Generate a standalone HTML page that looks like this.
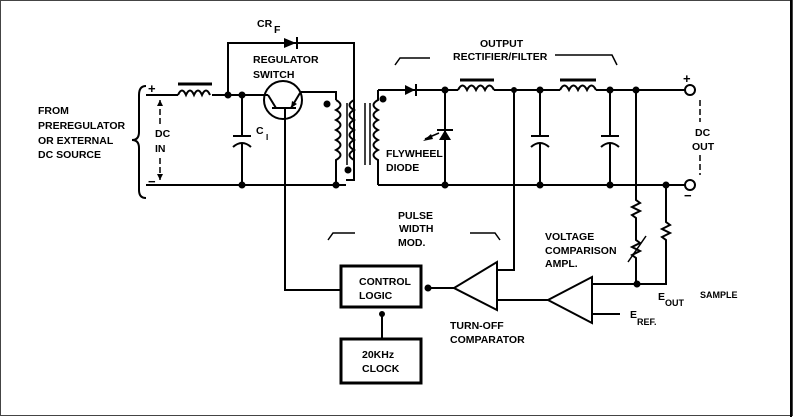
<!DOCTYPE html>
<html><head><style>
html,body{margin:0;padding:0;background:#fff}
svg{display:block}
text{font-family:"Liberation Sans",sans-serif;font-weight:bold;font-size:10.5px;fill:#000}
</style></head><body>
<svg width="794" height="417" viewBox="0 0 794 417" xmlns="http://www.w3.org/2000/svg">
<rect x="0.5" y="0.5" width="792" height="415" fill="#fff" stroke="#444" stroke-width="1"/>
<line x1="791" y1="0" x2="791" y2="417" stroke="#000" stroke-width="2"/>
<g stroke="#000" stroke-width="2" fill="none">
<path d="M146 86 Q139 86 139 95 L139 132 Q139 140 132 140 Q139 140 139 148 L139 190 Q139 198 146 198"/>
<path d="M146 95 H178 M212 95 H268"/>
<path d="M146 185 H346"/>
<path d="M178 95 q4 -9 8 0 q4 -9 8 0 q4 -9 8 0 q4 -9 8 0"/>
<line x1="178" y1="84" x2="212" y2="84" stroke-width="3"/>
<line x1="160" y1="100" x2="160" y2="126" stroke-width="1.5" stroke-dasharray="6,3"/>
<line x1="160" y1="158" x2="160" y2="180" stroke-width="1.5" stroke-dasharray="6,3"/>
<path d="M228 95 V43 H354 V180 H346"/>
<path d="M242 95 V136 M242 144 V185"/>
<path d="M233 136 H251" /><path d="M233 147 Q242 139 251 147"/>
<circle cx="283" cy="100" r="19"/>
<path d="M272 108 H296 M268 95 L276 108 M300 93 L291 108 M285 108 V290 H340"/>
<path d="M301 92 H336 V100"/>
<path d="M336 100 q9 5 0 10 q9 5 0 10 q9 5 0 10 q9 5 0 10 q9 5 0 10 q9 5 0 10 V185"/>
<path d="M354 100 q-9 5 0 10 q-9 5 0 10 q-9 5 0 10 q-9 5 0 10 q-9 5 0 10 q-9 5 0 10"/>
<line x1="347" y1="103" x2="347" y2="165" stroke-width="1.5"/>
<line x1="365" y1="103" x2="365" y2="165" stroke-width="1.5"/>
<line x1="370" y1="103" x2="370" y2="165" stroke-width="1.5"/>
<path d="M378 90 V100 q-9 5 0 10 q-9 5 0 10 q-9 5 0 10 q-9 5 0 10 q-9 5 0 10 q-9 5 0 10 V185"/>
<path d="M378 90 H458 M494 90 H560 M596 90 H688"/>
<path d="M458 90 q4.5 -9 9 0 q4.5 -9 9 0 q4.5 -9 9 0 q4.5 -9 9 0"/>
<path d="M560 90 q4.5 -9 9 0 q4.5 -9 9 0 q4.5 -9 9 0 q4.5 -9 9 0"/>
<line x1="460" y1="80" x2="494" y2="80" stroke-width="3"/>
<line x1="560" y1="80" x2="596" y2="80" stroke-width="3"/>
<path d="M378 185 H688"/>
<path d="M445 90 V185"/>
<path d="M540 90 V136 M540 144 V185 M531 136 H549 M531 147 Q540 139 549 147"/>
<path d="M610 90 V136 M610 144 V185 M601 136 H619 M601 147 Q610 139 619 147"/>
<path d="M437 130 H453"/>
<path d="M425 139 L439 133" stroke-width="1.5"/>
<path d="M514 90 V270 H497"/>
<path d="M636 90 V200 l4 3 -8 4 8 4 -8 4 4 3 V240 l4 3 -8 4 8 4 -8 4 4 3 V284 H592"/>
<path d="M628 262 L646 236" stroke-width="1.5"/>
<path d="M666 185 V222 l4 3 -8 4 8 4 -8 4 4 3 V284 H636"/>
<path d="M592 314 H620"/>
<path d="M592 277 V323 L548 300 Z"/>
<path d="M497 262 V310 L454 288 Z"/>
<path d="M548 300 H497"/>
<path d="M454 288 H428"/>
<rect x="341" y="266" width="80" height="41" stroke-width="3"/>
<rect x="341" y="339" width="80" height="44" stroke-width="3"/>
<path d="M382 339 V312"/>
<path d="M328 240 L333 233 H355 M470 233 H495 L500 240" stroke-width="1.5"/>
<path d="M395 65 L400 58 H430 M555 55 H612 L617 65" stroke-width="1.5"/>
<path d="M700 100 V122 M700 155 V175" stroke-width="1.5" stroke-dasharray="6,3"/>
</g>
<g fill="#000">
<circle cx="228" cy="95" r="3.5"/><circle cx="242" cy="95" r="3.5"/><circle cx="242" cy="185" r="3.5"/>
<circle cx="336" cy="185" r="3.5"/><circle cx="327" cy="104" r="3.5"/><circle cx="348" cy="170" r="3.5"/>
<circle cx="383" cy="99" r="3.5"/>
<circle cx="445" cy="90" r="3.5"/><circle cx="445" cy="185" r="3.5"/><circle cx="514" cy="90" r="3"/>
<circle cx="540" cy="90" r="3.5"/><circle cx="540" cy="185" r="3.5"/><circle cx="610" cy="90" r="3.5"/>
<circle cx="610" cy="185" r="3.5"/><circle cx="636" cy="90" r="3.5"/><circle cx="666" cy="185" r="3.5"/>
<circle cx="637" cy="284" r="3.5"/><circle cx="428" cy="288" r="3.5"/><circle cx="382" cy="314" r="3"/>
<path d="M284 38 L296 43 L284 48 Z"/><rect x="296" y="37" width="2" height="12"/>
<path d="M405 85 L415 90 L405 95 Z"/><rect x="415" y="84" width="2" height="12"/>
<path d="M439 140 L445 130 L451 140 Z"/>
<path d="M423 141 L431 134 L433 139 Z"/>
<path d="M291 108 L292 101 L297 104 Z"/>
<path d="M160 100 l-3 6 h6z"/><path d="M160 180 l-3 -6 h6z"/>
</g>
<circle cx="690" cy="90" r="5" fill="#fff" stroke="#000" stroke-width="2"/>
<circle cx="690" cy="185" r="5" fill="#fff" stroke="#000" stroke-width="2"/>
<text x="38" y="114">FROM</text>
<text x="38" y="129">PREREGULATOR</text>
<text x="38" y="144">OR EXTERNAL</text>
<text x="38" y="158">DC SOURCE</text>
<text x="148" y="93" style="font-size:13px">+</text>
<text x="148" y="186" style="font-size:13px">−</text>
<text x="155" y="137">DC</text><text x="155" y="152">IN</text>
<text x="256" y="134">C</text><text x="266" y="140" style="font-size:8px">I</text>
<text x="257" y="27">CR</text><text x="274" y="33">F</text>
<text x="253" y="63">REGULATOR</text><text x="253" y="78">SWITCH</text>
<text x="480" y="47">OUTPUT</text><text x="453" y="60">RECTIFIER/FILTER</text>
<text x="386" y="157">FLYWHEEL</text><text x="386" y="171">DIODE</text>
<text x="683" y="83" style="font-size:13px">+</text>
<text x="684" y="200" style="font-size:13px">−</text>
<text x="695" y="136">DC</text><text x="692" y="150">OUT</text>
<text x="398" y="219">PULSE</text><text x="399" y="232">WIDTH</text><text x="398" y="246">MOD.</text>
<text x="545" y="240">VOLTAGE</text><text x="545" y="254">COMPARISON</text><text x="545" y="267">AMPL.</text>
<text x="359" y="285">CONTROL</text><text x="359" y="299">LOGIC</text>
<text x="362" y="358">20KHz</text><text x="362" y="372">CLOCK</text>
<text x="450" y="329">TURN-OFF</text><text x="450" y="343">COMPARATOR</text>
<text x="658" y="300">E</text><text x="665" y="306" style="font-size:9px">OUT</text>
<text x="700" y="298" style="font-size:9px">SAMPLE</text>
<text x="630" y="318">E</text><text x="637" y="325" style="font-size:9px">REF.</text>
</svg>
</body></html>
